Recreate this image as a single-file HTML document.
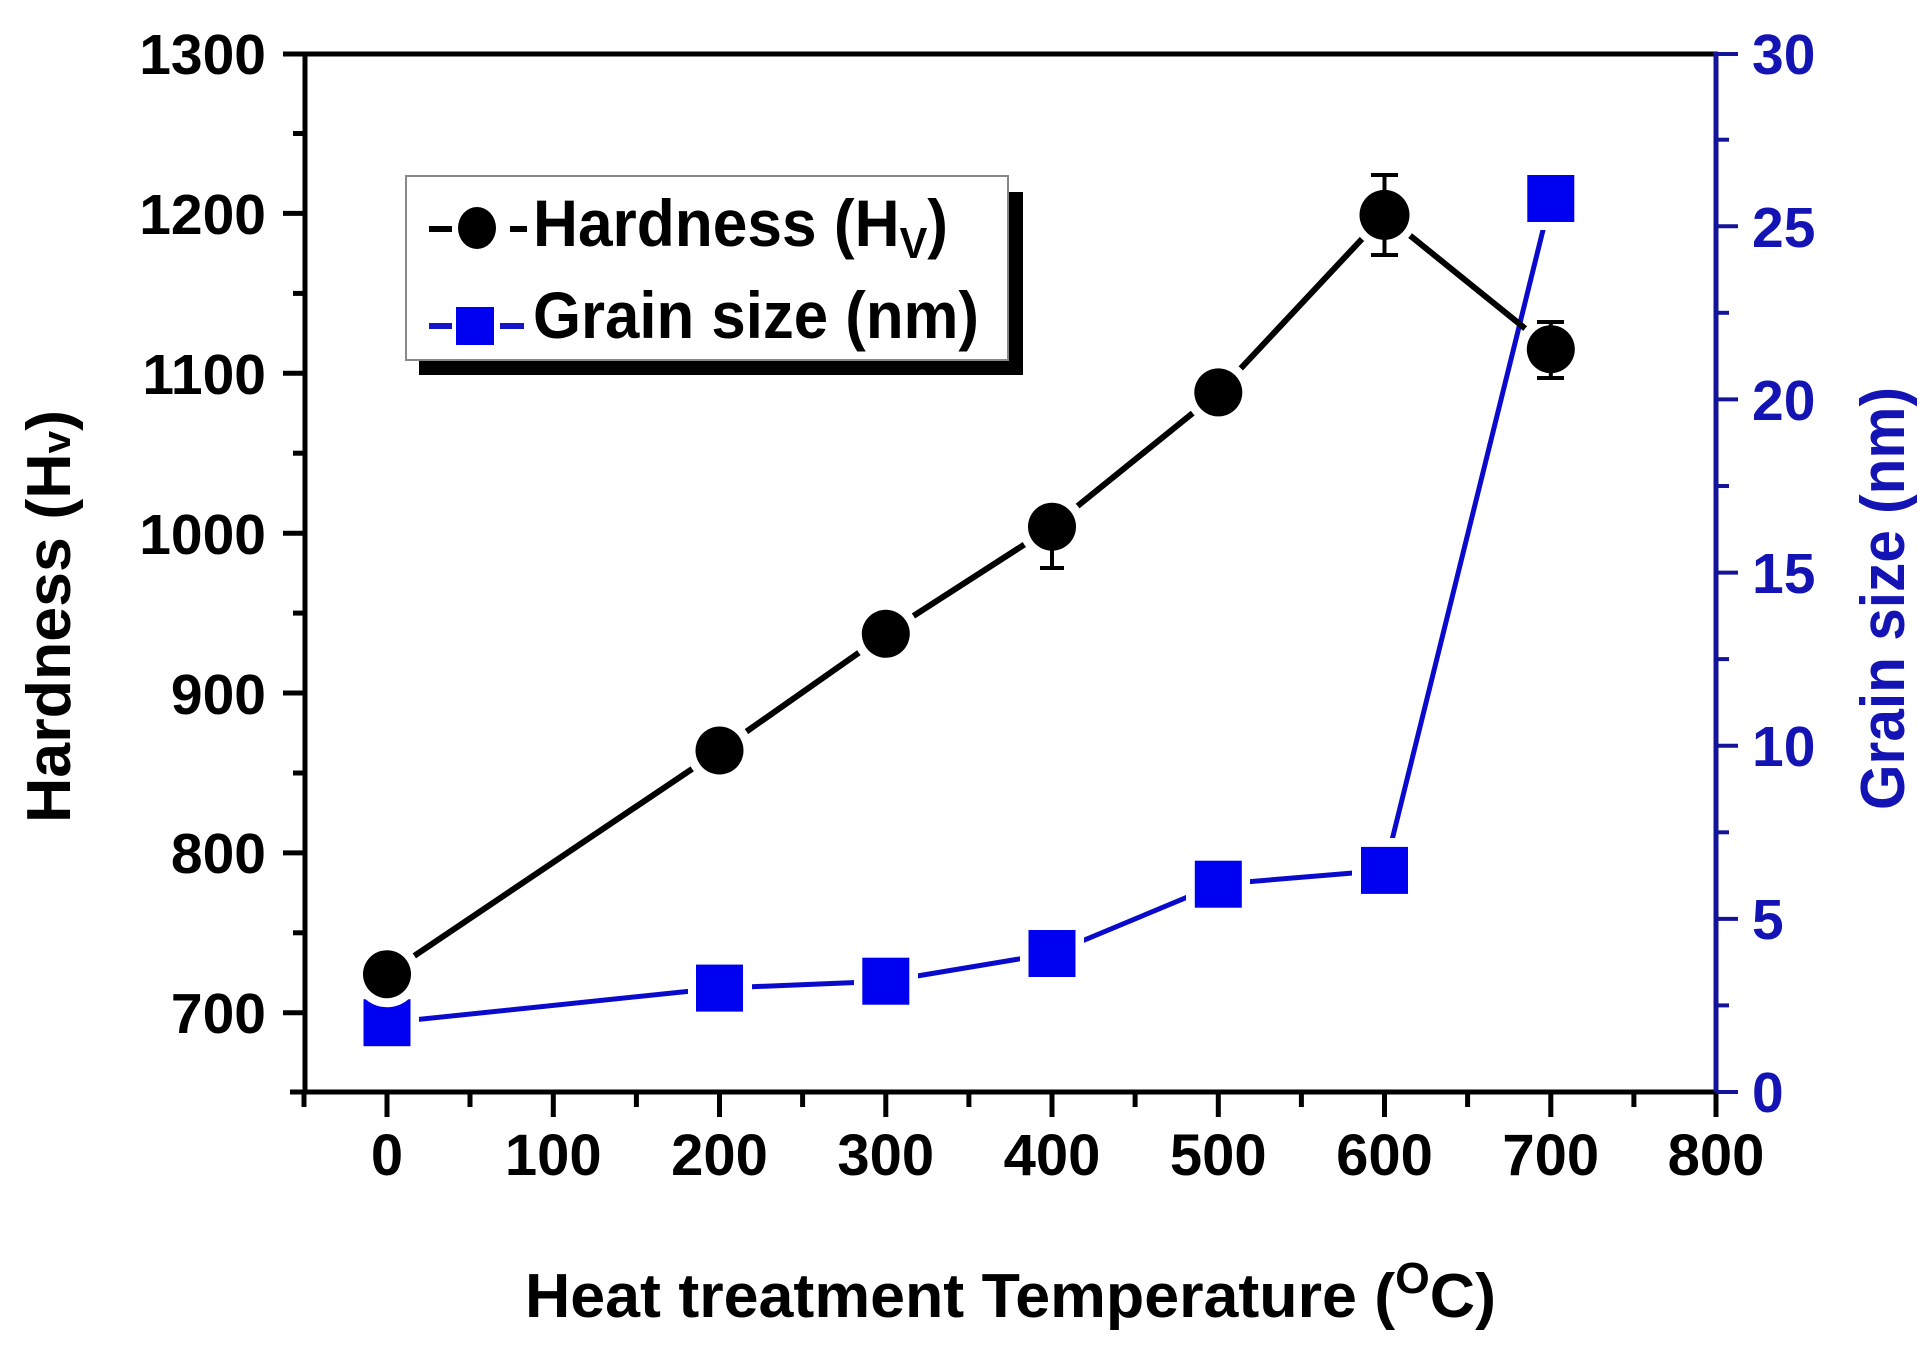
<!DOCTYPE html>
<html><head><meta charset="utf-8"><style>
html,body{margin:0;padding:0;background:#fff;}
svg{display:block;}
text{font-family:"Liberation Sans",Arial,sans-serif;font-weight:bold;}
</style></head><body>
<svg width="1928" height="1352" viewBox="0 0 1928 1352" xmlns="http://www.w3.org/2000/svg">
<rect width="1928" height="1352" fill="#fff"/>
<g stroke="#000" stroke-width="5" fill="none">
<line x1="288" y1="54" x2="1718" y2="54"/>
<line x1="290" y1="1092" x2="1716" y2="1092"/>
<line x1="305" y1="52" x2="305" y2="1094"/>
</g>
<line x1="1716" y1="52" x2="1716" y2="1094" stroke="#14149a" stroke-width="5"/>
<g stroke="#000" stroke-width="5">
<line x1="283" y1="54" x2="305" y2="54"/><line x1="293" y1="133.5" x2="305" y2="133.5"/>
<line x1="283" y1="213.4" x2="305" y2="213.4"/><line x1="293" y1="293.4" x2="305" y2="293.4"/>
<line x1="283" y1="373.3" x2="305" y2="373.3"/><line x1="293" y1="453.2" x2="305" y2="453.2"/>
<line x1="283" y1="533.2" x2="305" y2="533.2"/><line x1="293" y1="613.1" x2="305" y2="613.1"/>
<line x1="283" y1="693" x2="305" y2="693"/><line x1="293" y1="773" x2="305" y2="773"/>
<line x1="283" y1="852.9" x2="305" y2="852.9"/><line x1="293" y1="932.8" x2="305" y2="932.8"/>
<line x1="283" y1="1012.8" x2="305" y2="1012.8"/>
</g>
<g stroke="#000" stroke-width="5">
<line x1="304" y1="1092" x2="304" y2="1107"/>
<line x1="387" y1="1092" x2="387" y2="1117"/><line x1="470" y1="1092" x2="470" y2="1107"/>
<line x1="553.3" y1="1092" x2="553.3" y2="1117"/><line x1="636.4" y1="1092" x2="636.4" y2="1107"/>
<line x1="719.5" y1="1092" x2="719.5" y2="1117"/><line x1="802.6" y1="1092" x2="802.6" y2="1107"/>
<line x1="885.8" y1="1092" x2="885.8" y2="1117"/><line x1="968.9" y1="1092" x2="968.9" y2="1107"/>
<line x1="1052" y1="1092" x2="1052" y2="1117"/><line x1="1135.1" y1="1092" x2="1135.1" y2="1107"/>
<line x1="1218.3" y1="1092" x2="1218.3" y2="1117"/><line x1="1301.4" y1="1092" x2="1301.4" y2="1107"/>
<line x1="1384.5" y1="1092" x2="1384.5" y2="1117"/><line x1="1467.6" y1="1092" x2="1467.6" y2="1107"/>
<line x1="1550.8" y1="1092" x2="1550.8" y2="1117"/><line x1="1633.9" y1="1092" x2="1633.9" y2="1107"/>
<line x1="1716" y1="1092" x2="1716" y2="1117"/>
</g>
<g stroke="#14149a" stroke-width="4">
<line x1="1716" y1="1092" x2="1738" y2="1092"/><line x1="1716" y1="1005.4" x2="1729" y2="1005.4"/>
<line x1="1716" y1="918.9" x2="1738" y2="918.9"/><line x1="1716" y1="832.3" x2="1729" y2="832.3"/>
<line x1="1716" y1="745.7" x2="1738" y2="745.7"/><line x1="1716" y1="659.1" x2="1729" y2="659.1"/>
<line x1="1716" y1="572.6" x2="1738" y2="572.6"/><line x1="1716" y1="486" x2="1729" y2="486"/>
<line x1="1716" y1="399.4" x2="1738" y2="399.4"/><line x1="1716" y1="312.8" x2="1729" y2="312.8"/>
<line x1="1716" y1="226.3" x2="1738" y2="226.3"/><line x1="1716" y1="139.7" x2="1729" y2="139.7"/>
<line x1="1716" y1="54" x2="1738" y2="54"/>
</g>
<g font-size="57" text-anchor="end" fill="#000">
<text x="266" y="74">1300</text><text x="266" y="234">1200</text><text x="266" y="394">1100</text>
<text x="266" y="554">1000</text><text x="266" y="714">900</text><text x="266" y="873">800</text>
<text x="266" y="1033">700</text>
</g>
<g font-size="58" text-anchor="middle" fill="#000">
<text x="387" y="1175">0</text><text x="553.3" y="1175">100</text><text x="719.5" y="1175">200</text>
<text x="885.8" y="1175">300</text><text x="1052" y="1175">400</text><text x="1218.3" y="1175">500</text>
<text x="1384.5" y="1175">600</text><text x="1550.8" y="1175">700</text><text x="1716" y="1175">800</text>
</g>
<g font-size="57" fill="#1414b4">
<text x="1752" y="1112">0</text><text x="1752" y="939">5</text><text x="1752" y="766">10</text>
<text x="1752" y="593">15</text><text x="1752" y="420">20</text><text x="1752" y="247">25</text>
<text x="1752" y="74">30</text>
</g>
<text x="525" y="1317" font-size="62" textLength="971" lengthAdjust="spacingAndGlyphs" fill="#000">Heat treatment Temperature (<tspan font-size="44" dy="-24">O</tspan><tspan dy="24">C)</tspan></text>
<text transform="translate(70,823) rotate(-90)" font-size="62" textLength="413" lengthAdjust="spacingAndGlyphs" fill="#000">Hardness (H<tspan font-size="40">v</tspan>)</text>
<text transform="translate(1904,810) rotate(-90)" font-size="62" textLength="423" lengthAdjust="spacingAndGlyphs" fill="#1414b4">Grain size (nm)</text>
<polyline points="387,1022.7 719.5,988.1 885.8,981.2 1052,953.5 1218.3,884.2 1384.5,870.4 1550.8,198.5" fill="none" stroke="#0a0acc" stroke-width="5"/>
<g fill="#fff">
<rect x="355" y="991" width="64" height="64"/><rect x="688" y="956" width="64" height="64"/>
<rect x="854" y="949" width="64" height="64"/><rect x="1020" y="921" width="64" height="64"/>
<rect x="1186" y="852" width="64" height="64"/><rect x="1352" y="838" width="64" height="64"/>
<rect x="1519" y="166" width="64" height="64"/>
</g>
<g fill="#0000f0">
<rect x="363.5" y="999.2" width="47" height="47"/><rect x="696" y="964.6" width="47" height="47"/>
<rect x="862.3" y="957.7" width="47" height="47"/><rect x="1028.5" y="930" width="47" height="47"/>
<rect x="1194.8" y="860.7" width="47" height="47"/><rect x="1361" y="846.9" width="47" height="47"/>
<rect x="1527.3" y="175" width="47" height="47"/>
</g>
<polyline points="387,974.2 719.5,750.5 885.8,633.8 1052,526.7 1218.3,392.4 1384.5,214.9 1550.8,349.2" fill="none" stroke="#000" stroke-width="6"/>
<g fill="#fff">
<circle cx="387" cy="974.2" r="33"/><circle cx="719.5" cy="750.5" r="33"/><circle cx="885.8" cy="633.8" r="33"/>
<circle cx="1052" cy="526.7" r="33"/><circle cx="1218.3" cy="392.4" r="33"/><circle cx="1384.5" cy="214.9" r="33"/>
<circle cx="1550.8" cy="349.2" r="33"/>
</g>
<g stroke="#000" stroke-width="4">
<line x1="1052" y1="508" x2="1052" y2="568"/><line x1="1040" y1="508" x2="1064" y2="508"/><line x1="1040" y1="568" x2="1064" y2="568"/>
<line x1="1384.5" y1="175" x2="1384.5" y2="255"/><line x1="1371" y1="175" x2="1398" y2="175"/><line x1="1371" y1="255" x2="1398" y2="255"/>
<line x1="1550.8" y1="322" x2="1550.8" y2="378"/><line x1="1537" y1="322" x2="1564" y2="322"/><line x1="1537" y1="378" x2="1564" y2="378"/>
</g>
<g fill="#000">
<circle cx="387" cy="974.2" r="24"/><circle cx="719.5" cy="750.5" r="24"/><circle cx="885.8" cy="633.8" r="24"/>
<circle cx="1052" cy="526.7" r="24"/><circle cx="1218.3" cy="392.4" r="24"/><circle cx="1384.5" cy="214.9" r="25"/>
<circle cx="1550.8" cy="349.2" r="24"/>
</g>
<rect x="419" y="192" width="604" height="183" fill="#000"/>
<rect x="406" y="176" width="602" height="184" fill="#fff" stroke="#888" stroke-width="2"/>
<g stroke="#000" stroke-width="6"><line x1="429" y1="229" x2="452" y2="229"/><line x1="510" y1="229" x2="527" y2="229"/></g>
<ellipse cx="477" cy="228" rx="19" ry="21" fill="#000"/>
<g stroke="#1414c8" stroke-width="6"><line x1="429" y1="326" x2="452" y2="326"/><line x1="500" y1="326" x2="524" y2="326"/></g>
<rect x="456" y="307" width="38" height="38" fill="#0000f0"/>
<text x="533" y="246" font-size="66" textLength="415" lengthAdjust="spacingAndGlyphs" fill="#000">Hardness (H<tspan font-size="44" dy="12">V</tspan><tspan dy="-12">)</tspan></text>
<text x="533" y="338" font-size="66" textLength="446" lengthAdjust="spacingAndGlyphs" fill="#000">Grain size (nm)</text>
</svg>
</body></html>
